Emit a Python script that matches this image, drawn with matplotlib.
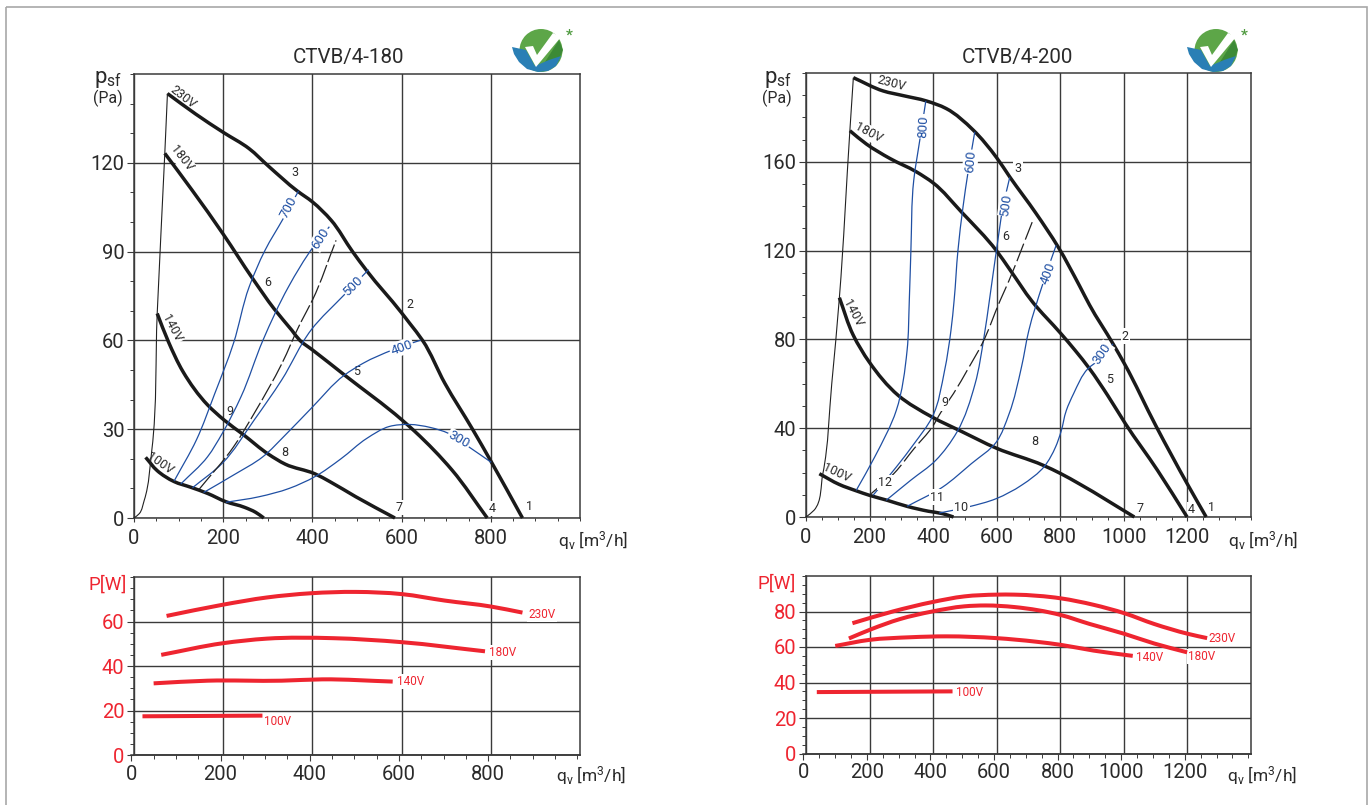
import matplotlib
matplotlib.use("Agg")
import matplotlib.pyplot as plt
import numpy as np
from matplotlib.patches import Circle, Polygon, Rectangle, PathPatch
from matplotlib.path import Path
from matplotlib.ticker import MultipleLocator

plt.rcParams['font.family'] = ['Roboto', 'DejaVu Sans']
plt.rcParams['mathtext.fontset'] = 'custom'
plt.rcParams['mathtext.rm'] = 'Roboto'
plt.rcParams['mathtext.default'] = 'rm'

W, H = 1371, 805
INK = '#2a2a2a'; GRID = '#3a3a3a'; BLUE = '#1f4fa3'; RED = '#ee2530'

# ---------- CTVB/4-180 pressure ----------
A_230_X = [75, 138, 200, 258, 302, 366, 400, 442, 490, 522, 599, 618, 647, 697, 759, 801, 871]
A_230_Y = [143.4, 136.5, 130.3, 124.8, 118.8, 110.5, 106.8, 100.6, 90, 83.5, 69.5, 65.8, 60, 45.5, 30, 19, 0]
A_180_X = [69, 130, 200, 266, 314, 354, 372, 400, 472, 601, 630, 713, 792]
A_180_Y = [123.2, 110.8, 95.9, 80.9, 70.7, 63.4, 60, 56.8, 48.3, 33.1, 29.2, 16.2, 0]
A_140_X = [52, 77, 110, 165, 202, 244, 302, 339, 406, 439, 497, 585]
A_140_Y = [69.1, 59.6, 49.4, 38.2, 33.1, 28.3, 21.5, 18.2, 14.9, 12.3, 7.2, 0]
A_100_X = [26, 52, 90, 127, 165, 206, 248, 273, 291]
A_100_Y = [20.5, 16, 12.3, 10.4, 8.3, 5.5, 3.6, 1.9, 0]
A_SYS_X = [0, 12, 23, 40, 52, 69, 75]
A_SYS_Y = [0, 1.5, 6, 23, 69, 123, 143.4]
A_DASH_X = [146, 223, 272, 331, 373, 400, 453]
A_DASH_Y = [9.7, 24, 36, 52, 65.8, 73.6, 93.8]
A_B300_X = [206, 281, 348, 406, 464, 522, 572, 618, 664, 705, 751, 801]
A_B300_Y = [5.3, 7.2, 10, 14, 20, 26.9, 30.9, 31.6, 30.6, 28.6, 24, 18.8]
A_B400_X = [156, 223, 289, 339, 397, 472, 514, 580, 643]
A_B400_Y = [8.6, 14.5, 20.7, 28, 37, 48.3, 52.3, 56.8, 60.1]
A_B500_X = [131, 198, 269, 331, 397, 474, 526]
A_B500_Y = [10.2, 18.5, 33, 46.6, 63.5, 75.8, 83.9]
A_B600_X = [105, 165, 198, 240, 289, 346, 402, 438]
A_B600_Y = [11.5, 20.7, 28.6, 41, 60, 78, 91.6, 98.4]
A_B700_X = [90, 140, 181, 223, 258, 294, 334, 369]
A_B700_Y = [12.5, 26.4, 42, 59, 78, 90.5, 101, 110.5]

# ---------- CTVB/4-200 pressure ----------
C_230_X = [149, 243, 306, 379, 441, 526, 599, 641, 724, 793, 861, 892, 966, 1002, 1101, 1202, 1259]
C_230_Y = [197.9, 191.9, 189.8, 187.4, 184, 174.3, 162, 153.2, 136.7, 121.7, 104, 95.5, 78, 69, 41, 14.3, 0]
C_180_X = [138, 190, 264, 347, 400, 489, 599, 641, 712, 802, 847, 892, 949, 1005, 1106, 1199]
C_180_Y = [174, 168, 161.5, 155.5, 150.5, 137.4, 120, 111.5, 97, 82.6, 75, 66.8, 54.8, 42, 21, 0]
C_140_X = [105, 149, 199, 290, 397, 487, 599, 746, 802, 859, 1033]
C_140_Y = [98.8, 81.8, 69.8, 54.8, 45, 38.7, 31, 23.3, 19.5, 15, 0]
C_100_X = [42, 104, 160, 199, 256, 318, 385, 430, 464]
C_100_Y = [19.5, 14.7, 11.7, 9.8, 7.5, 4.8, 2.6, 1.5, 0]
C_SYS_X = [0, 25, 53, 81, 105, 138, 149]
C_SYS_Y = [0, 3, 19.5, 60, 98.8, 174, 197.9]
C_DASH_X = [205, 278, 340, 397, 425, 464, 510, 554, 611, 639, 683, 714]
C_DASH_Y = [10.5, 19.8, 30.8, 40.5, 47.3, 55.6, 66.8, 78, 97.6, 106.6, 122.4, 133.7]
C_B300_X = [419, 509, 599, 678, 751, 785, 802, 819, 842, 887, 920, 966]
C_B300_Y = [1.8, 4.5, 8.3, 14.3, 23, 31.5, 38.3, 48, 55.6, 66.8, 70.6, 78]
C_B400_X = [318, 430, 520, 599, 639, 678, 701, 745, 787]
C_B400_Y = [4.8, 13.5, 24, 33.8, 46.5, 67.6, 84, 105, 122.4]
C_B500_X = [252, 329, 408, 475, 532, 560, 577, 599, 620, 641]
C_B500_Y = [7.5, 16.5, 25.5, 38.3, 60, 81, 97.6, 120, 139.7, 153]
C_B600_X = [211, 284, 340, 397, 436, 456, 466, 478, 494, 510, 531]
C_B600_Y = [9.8, 22.5, 33, 45, 66, 84, 97.6, 120, 139.7, 155.5, 173.5]
C_B800_X = [158, 216, 284, 318, 325, 330, 339, 358, 377]
C_B800_Y = [12, 27, 48, 75, 97.6, 120, 151.7, 169.8, 187.4]

# ---------- power curves ----------
B_230_X = [73, 198, 298, 397, 497, 601, 697, 801, 871]
B_230_Y = [62.5, 67.5, 70.8, 72.7, 73.3, 72.3, 69.4, 66.7, 64]
B_180_X = [61, 198, 298, 447, 601, 787]
B_180_Y = [45, 50.2, 52.3, 52.5, 50.7, 46.6]
B_140_X = [44, 165, 331, 422, 580]
B_140_Y = [32.2, 33.4, 33.4, 34, 33]
B_100_X = [19, 288]
B_100_Y = [17.4, 17.7]
D_230_X = [146, 273, 397, 498, 599, 656, 802, 904, 1002, 1095, 1202, 1262]
D_230_Y = [73.4, 80, 85.3, 88.5, 89.5, 89.5, 87.4, 83.8, 79, 73, 67.4, 65]
D_180_X = [135, 205, 295, 397, 498, 566, 656, 802, 892, 1002, 1095, 1199]
D_180_Y = [64.8, 70, 75.7, 80, 82.9, 83.4, 82.5, 78, 73, 67.4, 62, 57]
D_140_X = [92, 199, 329, 442, 599, 723, 802, 904, 1028]
D_140_Y = [60.6, 64, 65.5, 66, 65, 63, 61.2, 58, 55]
D_100_X = [34, 461]
D_100_Y = [34.6, 35]

fig = plt.figure(figsize=(W/100, H/100), dpi=100, facecolor='white')

def axes_px(l, t, r, b):
    return fig.add_axes([l/W, 1-b/H, (r-l)/W, (b-t)/H])

def style(ax, xlim, ylim, xmaj, ymaj, ymin, color=INK):
    ax.set_xlim(*xlim); ax.set_ylim(*ylim)
    ax.xaxis.set_minor_locator(MultipleLocator(xmaj/4))
    ax.yaxis.set_minor_locator(MultipleLocator(ymin))
    ax.set_xticks(list(range(0, int(xlim[1]), int(xmaj))))
    ax.set_yticks(list(range(0, int(ylim[1]), int(ymaj))))
    ax.grid(True, which='major', color=GRID, lw=1.0, zorder=1)
    ax.set_axisbelow(True)
    for s in ax.spines.values():
        s.set_color(GRID); s.set_linewidth(1.1)
    ax.tick_params(axis='y', which='major', length=5, width=0.8, color=GRID,
                   labelsize=14.5, labelcolor=color, pad=2)
    ax.tick_params(axis='y', which='minor', length=3, width=0.7, color=GRID)
    ax.tick_params(axis='x', which='major', length=3, width=0.8, color=GRID,
                   labelsize=14.5, labelcolor=INK, pad=5)
    ax.tick_params(axis='x', which='minor', length=2.5, width=0.7, color=GRID)

def curve(ax, x, y, c='#1a1a1a', lw=2.5, ls='-'):
    """Stroke a smooth Bezier path through the read points, in data coordinates."""
    p = np.column_stack([x, y]).astype(float)
    px = ax.transData.transform(p)
    h = np.hypot(*np.diff(px, axis=0).T)
    d = np.diff(p, axis=0) / h[:, None]
    m = np.zeros_like(p)
    m[0], m[-1] = d[0], d[-1]
    for i in range(1, len(p)-1):
        m[i] = (d[i]*h[i-1] + d[i-1]*h[i]) / (h[i-1] + h[i])
    verts = [p[0]]; codes = [Path.MOVETO]
    for i in range(len(p)-1):
        verts += [p[i] + m[i]*h[i]/3, p[i+1] - m[i+1]*h[i]/3, p[i+1]]
        codes += [Path.CURVE4]*3
    ax.add_patch(PathPatch(Path(verts, codes), fill=False, ec=c, lw=lw, ls=ls,
                           capstyle='butt', joinstyle='round', zorder=3, clip_on=False))

def note(ax, x, y, s, rot=0, c=INK, fs=9, z=2.5):
    ax.text(x, y, s, rotation=rot, rotation_mode='anchor', ha='center', va='center', color=c, fontsize=fs,
            zorder=z, bbox=dict(fc='white', ec='none', pad=0.8))

DASH_A = (0, (15, 2.5))
DASH_C = (0, (15, 3.5))

# ===== left pressure =====
a = axes_px(134, 74, 580, 518)
style(a, (0, 1000), (0, 150), 200, 30, 10)
for x, y in [(A_230_X, A_230_Y), (A_180_X, A_180_Y), (A_140_X, A_140_Y), (A_100_X, A_100_Y)]:
    curve(a, x, y)
curve(a, A_SYS_X, A_SYS_Y, c='#222222', lw=0.8)
for x, y in [(A_B300_X, A_B300_Y), (A_B400_X, A_B400_Y), (A_B500_X, A_B500_Y), (A_B600_X, A_B600_Y), (A_B700_X, A_B700_Y)]:
    curve(a, x, y, c=BLUE, lw=0.9)
curve(a, A_DASH_X, A_DASH_Y, c='#222222', lw=0.9, ls=DASH_A)
for x, y, s, r in [(110, 142, '230V', -38), (106, 121.5, '180V', -52), (84, 64, '140V', -62), (58, 18.5, '100V', -35)]:
    note(a, x, y, s, r)
for x, y, s, r in [(728, 26.4, '300', -30), (600, 57.5, '400', 20), (493, 78.4, '500', 45), (418, 94.4, '600', 57), (347, 104.9, '700', 62)]:
    note(a, x, y, s, r, c=BLUE, fs=9.5, z=5)
for x, y, s in [(886, 3.8, '1'), (802, 3.3, '4'), (595, 3.6, '7'), (339, 22, '8'), (216, 36, '9'), (499, 49.4, '5'), (619, 72, '2'), (299, 79.5, '6'), (361, 116.6, '3')]:
    note(a, x, y, s)

# ===== right pressure =====
c = axes_px(806, 73, 1251, 517)
style(c, (0, 1400), (0, 200), 200, 40, 10)
for x, y in [(C_230_X, C_230_Y), (C_180_X, C_180_Y), (C_140_X, C_140_Y), (C_100_X, C_100_Y)]:
    curve(c, x, y)
curve(c, C_SYS_X, C_SYS_Y, c='#222222', lw=0.8)
for x, y in [(C_B300_X, C_B300_Y), (C_B400_X, C_B400_Y), (C_B500_X, C_B500_Y), (C_B600_X, C_B600_Y), (C_B800_X, C_B800_Y)]:
    curve(c, x, y, c=BLUE, lw=0.9)
curve(c, C_DASH_X, C_DASH_Y, c='#222222', lw=0.9, ls=DASH_C)
for x, y, s, r in [(269, 195.3, '230V', -15), (198, 173, '180V', -28), (147, 92, '140V', -62), (98, 20, '100V', -25)]:
    note(c, x, y, s, r)
for x, y, s, r in [(932, 73.6, '300', 55), (761, 110, '400', 70), (630, 141, '500', 82), (517, 160, '600', 85), (369, 176, '800', 87)]:
    note(c, x, y, s, r, c=BLUE, fs=9.5, z=5)
for x, y, s in [(1275, 4.2, '1'), (1213, 3.5, '4'), (1050, 3.8, '7'), (719, 34.2, '8'), (436, 51.4, '9'), (955, 61.9, '5'), (1004, 81.5, '2'), (628, 126.5, '6'), (667, 157, '3'), (250, 15.6, '12'), (411, 9, '11'), (489, 4.2, '10')]:
    note(c, x, y, s, z=5 if s in ('9', '12', '11', '10') else 2.5)

# ===== power panels =====
def power(l, t, r, b, xlim, ylim, ymaj, curves, labels):
    ax = axes_px(l, t, r, b)
    style(ax, xlim, ylim, 200, ymaj, 5, color=RED)
    ax.tick_params(axis='x', which='both', bottom=False, labelbottom=False)
    for x, y in curves:
        curve(ax, x, y, c=RED, lw=2.9)
    for x, y, s in labels:
        note(ax, x, y, s, c=RED, fs=8.5)
    sc = axes_px(l-2.7, t, r, b)
    sc.patch.set_alpha(0)
    sc.set_xlim(xlim[0], xlim[1]*(r-l+2.7)/(r-l))
    sc.set_ylim(*ylim); sc.set_yticks([])
    for k in ('top', 'left', 'right'):
        sc.spines[k].set_visible(False)
    sc.spines['bottom'].set_color(GRID); sc.spines['bottom'].set_linewidth(1.1)
    sc.set_xticks(range(0, int(xlim[1]), 200))
    sc.xaxis.set_minor_locator(MultipleLocator(50))
    sc.tick_params(axis='x', which='major', length=4, width=0.8, color=GRID, labelsize=14.5, labelcolor=INK, pad=3)
    sc.tick_params(axis='x', which='minor', length=3, width=0.7, color=GRID)
    return ax

power(134, 577, 580, 755, (0, 1000), (0, 80), 20,
      [(B_230_X, B_230_Y), (B_180_X, B_180_Y), (B_140_X, B_140_Y), (B_100_X, B_100_Y)],
      [(915, 63, '230V'), (826, 46, '180V'), (620, 33, '140V'), (323, 15, '100V')])
power(806, 576, 1251, 753.5, (0, 1400), (0, 100), 20,
      [(D_230_X, D_230_Y), (D_180_X, D_180_Y), (D_140_X, D_140_Y), (D_100_X, D_100_Y)],
      [(1309, 65, '230V'), (1245, 54.6, '180V'), (1081, 54, '140V'), (514, 34.3, '100V')])

# ===== overlay: page frame, titles, units, logos =====
o = fig.add_axes([0, 0, 1, 1], zorder=20)
o.set_xlim(0, W); o.set_ylim(H, 0); o.axis('off'); o.patch.set_alpha(0)
o.add_patch(Rectangle((5.5, 7.5), 1361, 820, fill=False, ec='#a8a8a8', lw=1.2, clip_on=True))

def t(x, y, s, c=INK, fs=14.5, **kw):
    o.text(x, y, s, color=c, fontsize=fs, ha='center', va='center', **kw)

t(348.5, 58, 'CTVB/4-180', fs=14.8)
t(1017, 58, 'CTVB/4-200', fs=14.8)
t(108, 80, 'p$_{sf}$', fs=16)
t(107.5, 98, '(Pa)', fs=11.5)
t(778, 80, 'p$_{sf}$', fs=16)
t(777, 98, '(Pa)', fs=11.5)
for x, y in [(593, 541), (1263, 541), (591, 776), (1262, 776)]:
    t(x, y, 'q$_{v}$ [m$^{3}$/h]', fs=12.5)
t(108, 585, 'P[W]', c=RED, fs=13.5)
t(777, 584, 'P[W]', c=RED, fs=13.5)

def logo(dx):
    o.add_patch(Circle((541+dx, 50.5), 21.5, fc='#5da648', ec='none'))
    o.add_patch(Polygon([(545+dx, 62), (559+dx, 40), (563+dx, 50), (558+dx, 62)], fc='#3c8a36', ec='none'))
    o.add_patch(Polygon([(512+dx, 47), (526+dx, 50), (535+dx, 66), (549+dx, 60), (561+dx, 56), (556+dx, 66),
                         (548+dx, 71), (538+dx, 72), (527+dx, 69), (519+dx, 62), (514+dx, 54)], fc='#2a7fb5', ec='none'))
    o.add_patch(Polygon([(525+dx, 47), (533+dx, 46), (537+dx, 55), (553+dx, 33), (561+dx, 37), (536+dx, 67)],
                        fc='white', ec='none'))
    o.text(569+dx, 36, '*', color='#4f9a3f', fontsize=11, ha='center', va='center', fontweight='bold')

logo(0)
logo(675)

fig.savefig('out.png', dpi=100)
